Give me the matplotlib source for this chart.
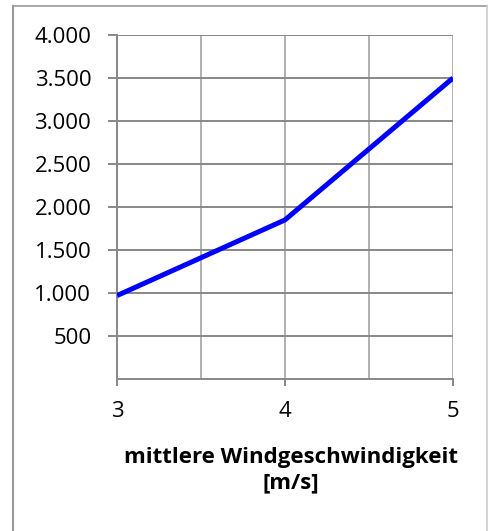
import matplotlib
matplotlib.use('Agg')
import matplotlib.pyplot as plt
from matplotlib.lines import Line2D

# Data
wind_speed = [3, 4, 5]
values = [970, 1850, 3500]

x_ticks = [3, 4, 5]
x_labels = ['3', '4', '5']
y_ticks = [500, 1000, 1500, 2000, 2500, 3000, 3500, 4000]
y_labels = ['500', '1.000', '1.500', '2.000', '2.500', '3.000', '3.500', '4.000']

plt.rcParams['font.family'] = ['Open Sans', 'DejaVu Sans']

fig = plt.figure(figsize=(4.89, 5.31), dpi=100)
ax = fig.add_axes([117/489, 1 - 379/531, 336/489, 344/531])

# outer frame (left, top, right only)
fig.add_artist(Line2D([13/489, 13/489], [0, 1 - 6/531], transform=fig.transFigure,
                      color='#999999', lw=1.5))
fig.add_artist(Line2D([13/489, 487.5/489], [1 - 6/531, 1 - 6/531], transform=fig.transFigure,
                      color='#999999', lw=1.2))
fig.add_artist(Line2D([487.5/489, 487.5/489], [0, 1 - 6/531], transform=fig.transFigure,
                      color='#cccccc', lw=1.2))

ax.plot(wind_speed, values, color='#0000ff', lw=3.6, solid_capstyle='butt', zorder=3)

ax.set_xlim(3, 5)
ax.set_ylim(0, 4000)
ax.set_xticks(x_ticks)
ax.set_xticklabels(x_labels)
ax.set_xticks([3.5, 4.5], minor=True)
ax.set_yticks(y_ticks)
ax.set_yticklabels(y_labels)

ax.grid(axis='y', which='major', color='#888888', lw=1.4)
ax.grid(axis='x', which='both', color='#b0b0b0', lw=1.4)
ax.set_axisbelow(True)

for s in ['top', 'right']:
    ax.spines[s].set_visible(False)
for s in ['left', 'bottom']:
    ax.spines[s].set_color('#888888')
    ax.spines[s].set_linewidth(1.4)

ax.tick_params(axis='y', which='major', length=6.5, width=1.4, color='#888888',
               labelsize=16, pad=12)
ax.tick_params(axis='x', which='major', length=5, width=1.4, color='#888888',
               labelsize=16, pad=11)
ax.tick_params(axis='x', which='minor', length=0)

ax.set_xlabel('mittlere Windgeschwindigkeit\n[m/s]', fontsize=16, fontweight='bold',
              linespacing=1.3)
ax.xaxis.set_label_coords(0.518, -0.2645, transform=ax.transAxes)
ax.xaxis.label.set_va('center')

fig.savefig('out.png', dpi=100)
